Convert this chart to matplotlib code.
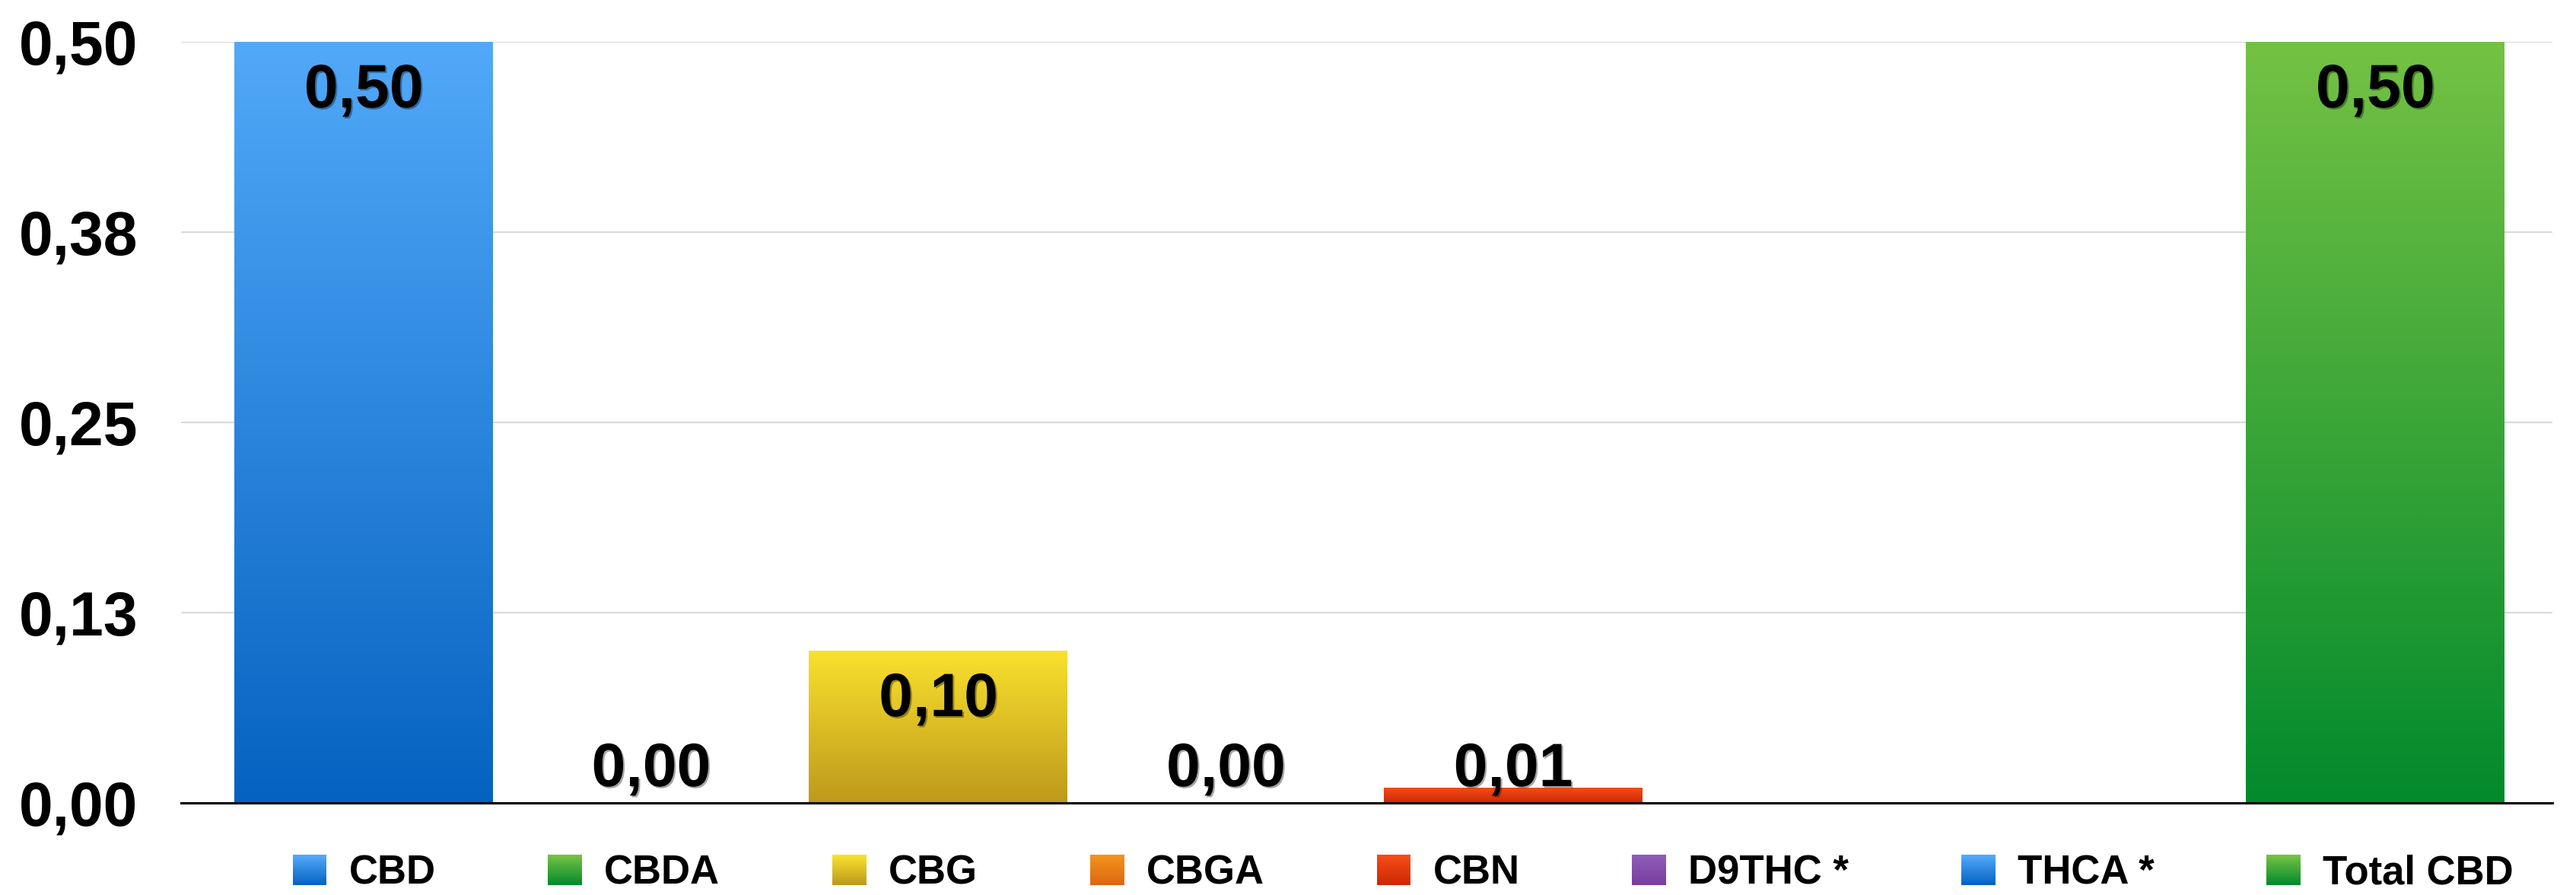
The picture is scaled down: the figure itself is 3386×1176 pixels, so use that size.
import numpy as np
import matplotlib
matplotlib.use('Agg')
import matplotlib.pyplot as plt
import matplotlib.patheffects as pe
from matplotlib.patches import Rectangle
from matplotlib.colors import to_rgb
from matplotlib.legend_handler import HandlerBase

# data
categories = ['CBD', 'CBDA', 'CBG', 'CBGA', 'CBN', 'D9THC *', 'THCA *', 'Total CBD']
values = [0.50, 0.00, 0.10, 0.00, 0.01, np.nan, np.nan, 0.50]
value_labels = ['0,50', '0,00', '0,10', '0,00', '0,01', '', '', '0,50']
ytick_values = [0.0, 0.125, 0.25, 0.375, 0.5]
ytick_labels = ['0,00', '0,13', '0,25', '0,38', '0,50']

# gradient colours (top, bottom) for each category
top_colors = ['#52A9F9', '#74C244', '#F9E12D', '#F1931D', '#F64B16', '#8E5DB8', '#52A9F9', '#74C244']
bottom_colors = ['#0562C0', '#028A2C', '#BE991C', '#DD6612', '#CB2906', '#7A3D9D', '#0562C0', '#028A2C']

plt.rcParams['font.family'] = ['Liberation Sans', 'DejaVu Sans']
plt.rcParams['font.weight'] = 'bold'


def gradient(top, bottom, n=256):
    t = np.linspace(0, 1, n)[:, None]
    a = np.array(to_rgb(top))
    b = np.array(to_rgb(bottom))
    return (a * (1 - t) + b * t)[:, None, :]


class GradientHandler(HandlerBase):
    def __init__(self, top, bottom):
        super().__init__()
        self.top = np.array(to_rgb(top))
        self.bottom = np.array(to_rgb(bottom))

    def create_artists(self, legend, orig_handle, xdescent, ydescent,
                       width, height, fontsize, trans):
        n = 24
        arts = []
        for i in range(n):
            t = i / (n - 1)
            c = self.bottom * (1 - t) + self.top * t
            r = Rectangle((-xdescent, -ydescent + height * i / n), width,
                          height / n * 1.05, facecolor=c, edgecolor='none',
                          transform=trans)
            arts.append(r)
        return arts


fig = plt.figure(figsize=(33.87, 11.76), dpi=100)
ax = fig.add_axes([0.0703, 0.1029, 0.9203, 0.8503])

x = np.arange(len(categories))
width = 0.9
bars = ax.bar(x, np.nan_to_num(values), width, color='none', edgecolor='none', zorder=2)

for i, (b, v) in enumerate(zip(bars, values)):
    if np.isnan(v) or v <= 0:
        continue
    ax.imshow(gradient(top_colors[i], bottom_colors[i]), aspect='auto',
              extent=(b.get_x(), b.get_x() + b.get_width(), 0, v),
              interpolation='bilinear', zorder=2)

# value labels: inside the top of the bar, or just above the axis for small bars
for i, v in enumerate(values):
    if np.isnan(v):
        continue
    y = v - 0.043
    if y < 0.011:
        y = 0.011
    ax.text(x[i], y, value_labels[i], ha='center', va='baseline', fontsize=58,
            fontweight='bold', color='black', zorder=4,
            path_effects=[pe.SimplePatchShadow(offset=(1.5, -1.5), alpha=0.35), pe.Normal()])

ax.set_xlim(-0.635, 7.617)
ax.set_ylim(0, 0.5)
ax.set_yticks(ytick_values)
ax.set_yticklabels(ytick_labels, fontsize=58, fontweight='bold')
ax.set_xticks([])
ax.tick_params(axis='y', length=0, pad=41)

ax.yaxis.grid(True, color='#D9D9D9', linewidth=1.5)
ax.set_axisbelow(True)
for s in ['top', 'right', 'left']:
    ax.spines[s].set_visible(False)
ax.spines['bottom'].set_color('black')
ax.spines['bottom'].set_linewidth(2.2)
ax.spines['bottom'].set_zorder(5)

# legend with gradient squares
handles = [Rectangle((0, 0), 1, 1) for _ in categories]
hmap = {h: GradientHandler(top_colors[i], bottom_colors[i]) for i, h in enumerate(handles)}
fig.legend(handles, categories, handler_map=hmap, loc='center',
           bbox_to_anchor=(0.5445, 0.024), ncol=len(categories), frameon=False,
           prop={'size': 38, 'weight': 'bold'}, handlelength=0.85, handleheight=0.78,
           handletextpad=0.55, columnspacing=2.8, borderpad=0, borderaxespad=0)

fig.savefig('out.png', dpi=100)
